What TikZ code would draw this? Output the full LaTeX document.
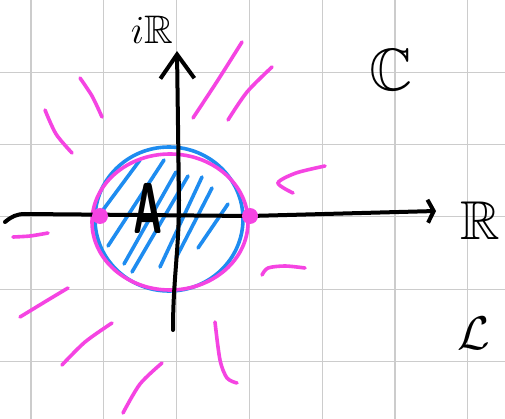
\documentclass[tikz,border=0pt]{standalone}
\usepackage{amsmath,amssymb}
\usetikzlibrary{arrows.meta}
\definecolor{penpink}{RGB}{245,68,226}
\definecolor{penblue}{RGB}{30,140,240}

\begin{document}
\begin{tikzpicture}[
    x=1pt, y=-1pt,
    gridline/.style={draw=black!20, line width=1.2pt},
    axis/.style={draw=black, line width=4pt, line cap=round, line join=round},
    ray/.style={draw=penpink, line width=3.6pt, line cap=round},
    hatch/.style={draw=penblue, line width=3.6pt, line cap=round},
    pinkdot/.style={circle, fill=penpink, minimum size=16pt, inner sep=0pt},
    lab/.style={inner sep=0pt, text=black, font=\Huge},
]
\useasboundingbox[fill=white] (0,0) rectangle (505,419);
% Squared paper.
\foreach \gx in {0,...,6} {
  \draw[gridline] (31+72.8*\gx,0) -- (31+72.8*\gx,419);
}
\foreach \gy in {1,...,5} {
  \draw[gridline] (0,72.3*\gy) -- (505,72.3*\gy);
}

% Pink strokes round the disc.
\draw[ray] plot[smooth] coordinates {(80,78) (92,96) (102,117)};
\draw[ray] plot[smooth] coordinates {(45,110) (56,134) (72,153)};
\draw[ray] plot[smooth] coordinates {(193,118) (218,80) (242,42)};
\draw[ray] plot[smooth] coordinates {(228,120) (247,92) (272,67)};
\draw[ray] plot[smooth] coordinates {(325,166) (296,173) (278,183) (293,193)};
\draw[ray] plot[smooth] coordinates {(13,237) (30,236) (48,233)};
\draw[ray] plot[smooth] coordinates {(68,288) (43,303) (20,317)};
\draw[ray] plot[smooth] coordinates {(112,323) (85,342) (62,365)};
\draw[ray] plot[smooth] coordinates {(162,363) (140,384) (123,413)};
\draw[ray] plot[smooth] coordinates {(215,322) (220,360) (227,378) (237,383)};
\draw[ray] plot[smooth] coordinates {(262,275) (268,268) (285,266) (305,268)};

% Hatching of A.
\foreach \ax/\ay/\bx/\by in {100/214/140/160, 108/246/164/160, 124/264/176/172,
    132/272/188/176, 160/267/202/177, 176/258/212/188, 198/248/228/204} {
  \draw[hatch] (\ax,\ay) -- (\bx,\by);
}
\draw[hatch] (169,219) ellipse[x radius=74, y radius=72];
\draw[ray] (170,222) ellipse[x radius=78, y radius=68];

% Axes.
\coordinate (re-start) at (5,222);
\coordinate (re-end) at (436,211);
\coordinate (im-start) at (173,330);
\coordinate (im-end) at (177,51);
\draw[axis, -{Straight Barb[length=6pt, width=23pt, line width=4pt]}]
  (re-start) to[out=40, in=180] (25,214) -- (250,216) -- (re-end);
\draw[axis, -{Straight Barb[length=24pt, width=34pt, line width=4pt]}]
  (im-start) to[out=90, in=-90] (179,200) -- (im-end);

% Points where the boundary meets the real axis.
\node[pinkdot] (p-left) at (100,216) {};
\node[pinkdot] (p-right) at (250,216) {};

% Labels.
\node[lab, scale=2.2] (lab-re) at (480,221) {$\mathbb{R}$};
\node[lab, scale=1.6] (lab-im) at (152,30) {$i\mathbb{R}$};
\node[lab, scale=2.4] (lab-c) at (391,70) {$\mathbb{C}$};
\node[lab, scale=1.9] (lab-l) at (474,333) {$\mathcal{L}$};
\node[lab, font=\Huge\sffamily\bfseries, xscale=1.6, yscale=2.9] (lab-a) at (148,208) {A};
\end{tikzpicture}
\end{document}
